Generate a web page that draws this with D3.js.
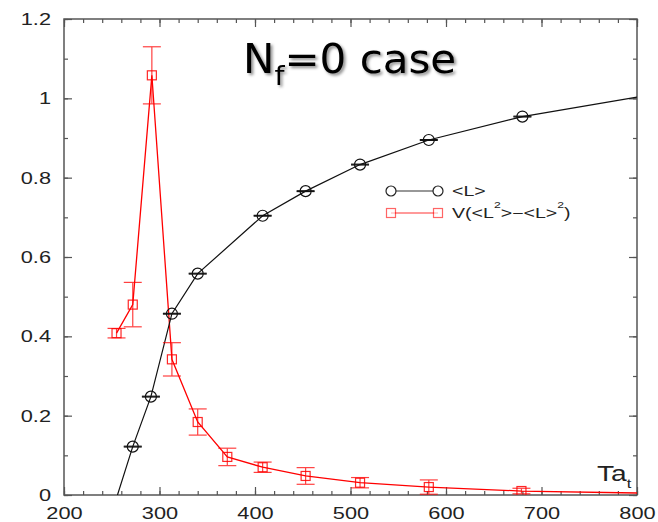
<!DOCTYPE html>
<html>
<head>
<meta charset="utf-8">
<script src="https://cdn.jsdelivr.net/npm/d3@7"></script>
<style>
  html, body { margin: 0; padding: 0; background: #fff; }
  svg { display: block; }
</style>
</head>
<body>
<svg id="chart" width="658" height="522"></svg>
<script>
// ---------- data ----------
const xTicks = [200, 300, 400, 500, 600, 700, 800];
const xMinorTicks = d3.range(200, 801, 20);
const yTicks = [0, 0.2, 0.4, 0.6, 0.8, 1.0, 1.2];
const yTickLabels = ["0", "0.2", "0.4", "0.6", "0.8", "1", "1.2"];
const yMinorTicks = d3.range(0, 1.21, 0.1);

// <L>  (Polyakov loop)
const lX   = [272, 291, 313, 340, 408, 453, 510, 582, 680];
const lY   = [0.122, 0.248, 0.457, 0.558, 0.704, 0.766, 0.833, 0.895, 0.954];
const lErr = [0.001, 0.001, 0.001, 0.001, 0.001, 0.001, 0.001, 0.001, 0.001];
// curve continuation beyond the measured points (no markers)
const lCurveX = [256, 800];
const lCurveY = [0.0, 1.003];

// V(<L^2> - <L>^2)  (susceptibility)
const vX   = [255, 272, 292, 313, 340, 371, 408, 453, 510, 582, 679];
const vY   = [0.408, 0.480, 1.058, 0.342, 0.184, 0.096, 0.070, 0.048, 0.031, 0.020, 0.010];
const vErr = [0.012, 0.056, 0.072, 0.042, 0.033, 0.022, 0.013, 0.021, 0.013, 0.018, 0.007];
const vCurveX = [800];
const vCurveY = [0.005];

const seriesNames = ["<L>", "V(<L²>−<L>²)"];

// ---------- layout ----------
const svg = d3.select("#chart");
const W = 658, H = 522;
const margin = { left: 64, right: 21, top: 19, bottom: 27 };
const x = d3.scaleLinear().domain([200, 800]).range([margin.left, W - margin.right]);
const y = d3.scaleLinear().domain([0, 1.2]).range([H - margin.bottom, margin.top]);
const STRETCH = 1.28;
const axisColor = "#555";
const textColor = "#222";
const red = "#ff0000";

svg.append("defs").append("clipPath").attr("id", "plotclip")
  .append("rect")
  .attr("x", x(200)).attr("y", y(1.2))
  .attr("width", x(800) - x(200)).attr("height", y(0) - y(1.2));

const shadow = svg.select("defs").append("filter").attr("id", "shadow")
  .attr("x", "-10%").attr("y", "-20%").attr("width", "130%").attr("height", "150%");
shadow.append("feDropShadow").attr("dx", 2).attr("dy", 2).attr("stdDeviation", 1.6)
  .attr("flood-color", "#000").attr("flood-opacity", 0.45);

// ---------- axes ----------
function styleAxis(g) {
  g.select(".domain").remove();
  g.selectAll("line").attr("stroke", axisColor).attr("stroke-width", 1.2);
}
// bottom
const gB = svg.append("g").attr("transform", `translate(0,${y(0)})`)
  .call(d3.axisBottom(x).tickValues(xTicks).tickSize(-8).tickPadding(12).tickFormat(d3.format("d")))
  .call(styleAxis);
gB.selectAll("text").attr("font-family", "Liberation Sans, Arial, sans-serif")
  .attr("font-size", 17).attr("fill", textColor)
  .attr("transform", `scale(${STRETCH},1)`);
svg.append("g").attr("transform", `translate(0,${y(0)})`)
  .call(d3.axisBottom(x).tickValues(xMinorTicks).tickSize(-4).tickFormat(""))
  .call(styleAxis);
// top
svg.append("g").attr("transform", `translate(0,${y(1.2)})`)
  .call(d3.axisTop(x).tickValues(xTicks).tickSize(-8).tickFormat(""))
  .call(styleAxis);
svg.append("g").attr("transform", `translate(0,${y(1.2)})`)
  .call(d3.axisTop(x).tickValues(xMinorTicks).tickSize(-4).tickFormat(""))
  .call(styleAxis);
// left
const gL = svg.append("g").attr("transform", `translate(${x(200)},0)`)
  .call(d3.axisLeft(y).tickValues(yTicks).tickSize(-8).tickPadding(13)
    .tickFormat((d, i) => yTickLabels[i]))
  .call(styleAxis);
gL.selectAll("text").attr("font-family", "Liberation Sans, Arial, sans-serif")
  .attr("font-size", 17).attr("fill", textColor)
  .attr("x", 0).attr("transform", `translate(-13,0) scale(${STRETCH},1)`);
svg.append("g").attr("transform", `translate(${x(200)},0)`)
  .call(d3.axisLeft(y).tickValues(yMinorTicks).tickSize(-4).tickFormat(""))
  .call(styleAxis);
// right
svg.append("g").attr("transform", `translate(${x(800)},0)`)
  .call(d3.axisRight(y).tickValues(yTicks).tickSize(-8).tickFormat(""))
  .call(styleAxis);
svg.append("g").attr("transform", `translate(${x(800)},0)`)
  .call(d3.axisRight(y).tickValues(yMinorTicks).tickSize(-4).tickFormat(""))
  .call(styleAxis);
// frame
svg.append("rect")
  .attr("x", x(200)).attr("y", y(1.2))
  .attr("width", x(800) - x(200)).attr("height", y(0) - y(1.2))
  .attr("fill", "none").attr("stroke", axisColor).attr("stroke-width", 1.5);

// ---------- series ----------
const plot = svg.append("g").attr("clip-path", "url(#plotclip)");
const line = d3.line().x(d => x(d[0])).y(d => y(d[1]));

const lPts = [[lCurveX[0], lCurveY[0]], ...lX.map((v, i) => [v, lY[i]]), [lCurveX[1], lCurveY[1]]];
const vPts = [...vX.map((v, i) => [v, vY[i]]), [vCurveX[0], vCurveY[0]]];

plot.append("path").datum(vPts).attr("d", line)
  .attr("fill", "none").attr("stroke", red).attr("stroke-width", 1.3);
plot.append("path").datum(lPts).attr("d", line)
  .attr("fill", "none").attr("stroke", "#111").attr("stroke-width", 1.2);

const CAP = 9;
function errorBars(xs, ys, es, color, op) {
  const g = plot.append("g").attr("stroke", color).attr("stroke-width", 1.2).attr("opacity", op);
  xs.forEach((xv, i) => {
    const cx = x(xv), y1 = y(ys[i] + es[i]), y0 = y(ys[i] - es[i]);
    g.append("line").attr("x1", cx).attr("x2", cx).attr("y1", y1).attr("y2", y0);
    g.append("line").attr("x1", cx - CAP).attr("x2", cx + CAP).attr("y1", y1).attr("y2", y1);
    g.append("line").attr("x1", cx - CAP).attr("x2", cx + CAP).attr("y1", y0).attr("y2", y0);
  });
}
errorBars(vX, vY, vErr, red, 0.75);
errorBars(lX, lY, lErr, "#111", 1);

plot.append("g").selectAll("rect").data(vX).join("rect")
  .attr("x", (d) => x(d) - 4.5).attr("y", (d, i) => y(vY[i]) - 4.5)
  .attr("width", 9).attr("height", 9)
  .attr("fill", "none").attr("stroke", red).attr("stroke-width", 1.2).attr("opacity", 0.85);
plot.append("g").selectAll("circle").data(lX).join("circle")
  .attr("cx", d => x(d)).attr("cy", (d, i) => y(lY[i])).attr("r", 5.5)
  .attr("fill", "none").attr("stroke", "#111").attr("stroke-width", 1.2);

// ---------- legend ----------
const leg = svg.append("g");
const lx0 = 391, lx1 = 438, row1 = 191, row2 = 213;
leg.append("line").attr("x1", lx0).attr("x2", lx1).attr("y1", row1).attr("y2", row1)
  .attr("stroke", "#333").attr("stroke-width", 1.2);
[lx0, lx1].forEach(cx => leg.append("circle").attr("cx", cx).attr("cy", row1).attr("r", 5)
  .attr("fill", "#fff").attr("stroke", "#222").attr("stroke-width", 1.2));
leg.append("line").attr("x1", lx0).attr("x2", lx1).attr("y1", row2).attr("y2", row2)
  .attr("stroke", red).attr("stroke-width", 1.2).attr("opacity", 0.8);
[lx0, lx1].forEach(cx => leg.append("rect").attr("x", cx - 4.5).attr("y", row2 - 4.5)
  .attr("width", 9).attr("height", 9)
  .attr("fill", "#fff").attr("stroke", red).attr("stroke-width", 1.2).attr("opacity", 0.6));

const legFont = "Liberation Sans, Arial, sans-serif";
leg.append("text").attr("transform", `translate(452,${row1 + 5}) scale(1.35,1)`)
  .attr("font-family", legFont).attr("font-size", 14.5).attr("fill", textColor)
  .text(seriesNames[0]);
const t2 = leg.append("text").attr("transform", `translate(452,${row2 + 5}) scale(1.35,1)`)
  .attr("font-family", legFont).attr("font-size", 14.5).attr("fill", textColor);
t2.append("tspan").text("V(<L");
t2.append("tspan").attr("font-size", 9).attr("dy", -10).text("2");
t2.append("tspan").attr("dy", 10).text(">−<L>");
t2.append("tspan").attr("font-size", 9).attr("dy", -10).text("2");
t2.append("tspan").attr("dy", 10).text(")");

// ---------- axis label ----------
const xl = svg.append("text").attr("transform", `translate(597,481) scale(${STRETCH},1)`)
  .attr("font-family", "Liberation Sans, Arial, sans-serif").attr("font-size", 22).attr("fill", textColor);
xl.append("tspan").text("Ta");
xl.append("tspan").attr("font-size", 13).attr("dy", 7).text("t");

// ---------- title ----------
const title = svg.append("text").attr("transform", "translate(243,73) scale(1.05,1)")
  .attr("font-family", "DejaVu Sans, Verdana, sans-serif").attr("font-size", 40)
  .attr("fill", "#000").attr("filter", "url(#shadow)");
title.append("tspan").text("N");
title.append("tspan").attr("font-size", 27).attr("dy", 12).text("f");
title.append("tspan").attr("dy", -12).text("=0 case");
</script>
</body>
</html>
